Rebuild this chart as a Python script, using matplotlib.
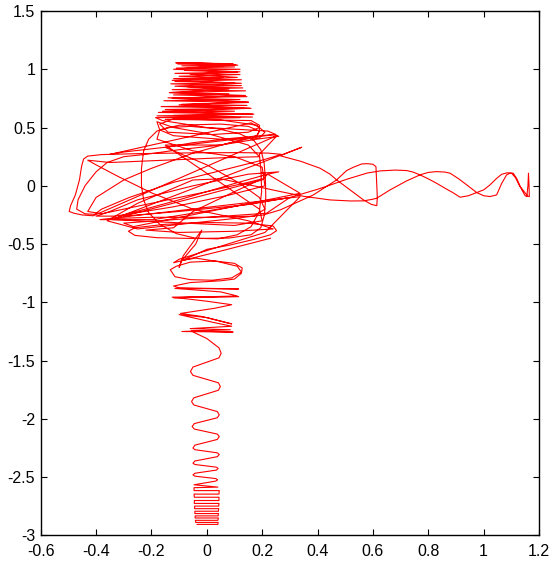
import numpy as np
import matplotlib
matplotlib.use("Agg")
import matplotlib.pyplot as plt

# trajectory, split into pieces (all in data units)
# dense block at the bottom of the stem (horizontal strokes)
base_x = [-0.035, 0.040, 0.041, -0.040, -0.041, 0.040, 0.042, -0.042, -0.042, 0.041,
          0.042, -0.043, -0.043, 0.042, 0.043, -0.044, -0.044, 0.043, 0.044, -0.045,
          -0.045, 0.044, 0.044, -0.045, -0.046, 0.044, 0.045, -0.046, -0.046, 0.040,
          -0.046]
base_y = [-2.905, -2.905, -2.888, -2.888, -2.870, -2.870, -2.850, -2.850, -2.832, -2.832,
          -2.812, -2.812, -2.792, -2.792, -2.770, -2.770, -2.748, -2.748, -2.725, -2.725,
          -2.700, -2.700, -2.672, -2.672, -2.645, -2.645, -2.615, -2.615, -2.590, -2.585,
          -2.565]

# wavy stem going up (shoulder, peak, shoulder for each swing)
stem_x = [0.033, 0.039, 0.033, -0.043, -0.050, -0.043, 0.035, 0.041, 0.035,
          -0.043, -0.050, -0.043, 0.038, 0.045, 0.038, -0.043, -0.050, -0.043,
          0.038, 0.045, 0.038, -0.045, -0.053, -0.045, 0.038, 0.045, 0.038,
          -0.047, -0.055, -0.047, 0.042, 0.049, 0.042, -0.050, -0.059, -0.050,
          0.044, 0.052, 0.044, 0.000, -0.040, -0.056]
stem_y = [-2.533, -2.523, -2.512, -2.491, -2.480, -2.466, -2.439, -2.425, -2.414,
          -2.391, -2.380, -2.361, -2.324, -2.305, -2.291, -2.264, -2.250, -2.225,
          -2.176, -2.151, -2.130, -2.087, -2.065, -2.040, -1.990, -1.965, -1.937,
          -1.880, -1.851, -1.819, -1.754, -1.722, -1.690, -1.626, -1.594, -1.555,
          -1.476, -1.436, -1.390, -1.310, -1.265, -1.245]

# zig-zag neck between stem and core
neck_x = [0.095, -0.090, 0.085, -0.060, 0.090, 0.020, -0.100, 0.000, 0.090, -0.020,
          -0.095, 0.030, 0.090, 0.000, -0.125, 0.115, -0.120, 0.110, 0.050, -0.115,
          0.115, -0.100, -0.120, -0.060, 0.050, 0.100, 0.125, 0.128, 0.100, 0.030,
          -0.060, -0.110, -0.132, -0.115, -0.060, 0.020, 0.090, 0.125, 0.110, 0.040,
          -0.040, -0.090, -0.100, -0.085, -0.018, -0.040, -0.090]
neck_y = [-1.255, -1.250, -1.235, -1.225, -1.205, -1.170, -1.105, -1.130, -1.185, -1.120,
          -1.095, -1.050, -1.020, -0.990, -0.955, -0.950, -0.960, -0.945, -0.910, -0.880,
          -0.885, -0.875, -0.860, -0.830, -0.815, -0.800, -0.750, -0.705, -0.665, -0.645,
          -0.655, -0.690, -0.720, -0.780, -0.805, -0.810, -0.790, -0.740, -0.690, -0.650,
          -0.620, -0.640, -0.700, -0.600, -0.380, -0.500, -0.640]

# tangled core around the origin
core_x = [-0.050, 0.000, 0.080, 0.170, 0.230, 0.252, 0.240, 0.150, 0.000, -0.150,
          -0.260, -0.283, -0.260, -0.180, -0.050, 0.080, 0.160, 0.195, 0.208, 0.213,
          0.212, 0.207, 0.195, 0.170, 0.120, 0.040, -0.060, -0.140, -0.180, -0.210,
          -0.228, -0.236, -0.236, -0.228, -0.210, -0.170, -0.110, -0.040, 0.040, 0.110,
          0.160, 0.190, 0.198, 0.196, 0.190,
          0.254, -0.410, -0.450, -0.480, -0.497, -0.492, -0.475, -0.460, -0.452, -0.445,
          -0.430, -0.380, -0.250, -0.050, 0.120, 0.220, 0.270,
          0.200, 0.050, -0.120, -0.280, -0.380, -0.405, -0.440, -0.470, -0.465, -0.440,
          -0.400, -0.360, -0.300, -0.220, -0.100, 0.050, 0.180, 0.260, 0.240, 0.100,
          -0.050, -0.150,
          0.000, 0.120, 0.190, 0.210, 0.170, 0.000, -0.200, -0.330, -0.300, -0.100,
          0.100, 0.220, 0.260, 0.150, -0.050, -0.250, -0.350, -0.400, -0.330, -0.120,
          0.080, 0.210,
          0.200, 0.100, -0.050, -0.180, -0.170, -0.100, 0.050, 0.150, 0.190, 0.180,
          0.100, -0.050, -0.200, -0.300, -0.400, -0.430, -0.380, -0.200, 0.000, 0.150,
          0.200,
          0.100, -0.050, -0.120, -0.220, -0.100, 0.100, 0.240, 0.150, -0.050, -0.200,
          -0.320, -0.400, -0.430, -0.350, -0.150, 0.050, 0.190,
          0.150, 0.000, -0.120, -0.180]
core_y = [-0.600, -0.545, -0.510, -0.460, -0.420, -0.385, -0.345, -0.320, -0.315, -0.330,
          -0.360, -0.390, -0.425, -0.445, -0.452, -0.448, -0.420, -0.360, -0.250, -0.100,
          0.050, 0.200, 0.310, 0.390, 0.445, 0.490, 0.510, 0.500, 0.470, 0.400,
          0.300, 0.150, 0.000, -0.120, -0.230, -0.330, -0.410, -0.450, -0.455, -0.420,
          -0.350, -0.220, -0.050, 0.120, 0.270,
          0.431, -0.257, -0.250, -0.235, -0.220, -0.170, -0.080, 0.050, 0.170, 0.230,
          0.255, 0.268, 0.276, 0.283, 0.285, 0.281, 0.270,
          0.220, 0.130, 0.030, -0.100, -0.200, -0.245, -0.240, -0.200, -0.120, 0.000,
          0.120, 0.200, 0.250, 0.270, 0.310, 0.350, 0.400, 0.425, 0.440, 0.410,
          0.370, 0.330,
          0.180, 0.020, -0.100, -0.200, -0.260, -0.270, -0.270, -0.280, -0.250, -0.120,
          0.020, 0.100, 0.120, 0.100, 0.000, -0.120, -0.220, -0.260, -0.260, -0.180,
          -0.080, 0.000,
          0.160, 0.250, 0.300, 0.400, 0.480, 0.520, 0.530, 0.510, 0.470, 0.430,
          0.380, 0.280, 0.150, 0.050, -0.100, -0.220, -0.240, -0.150, -0.050, 0.030,
          0.060,
          -0.050, -0.220, -0.360, -0.380, -0.400, -0.390, -0.370, -0.300, -0.200, -0.060,
          0.080, 0.180, 0.220, 0.200, 0.220, 0.240, 0.250,
          0.350, 0.450, 0.500, 0.550]

# loops between the core and the crown
upper_x = [-0.170, -0.120, 0.050, 0.190, 0.210, 0.180, 0.050, -0.120, -0.170, -0.140,
           0.020, 0.150, 0.190, 0.160, -0.350, -0.300, 0.250, 0.220, 0.000, -0.160]
upper_y = [0.480, 0.430, 0.400, 0.410, 0.460, 0.520, 0.565, 0.575, 0.530, 0.460,
           0.440, 0.460, 0.500, 0.540, 0.270, 0.290, 0.440, 0.470, 0.500, 0.560]

# dense scribble on top, up then back down
crown_x = [-0.185, 0.165, -0.120, 0.170, -0.175, 0.100, -0.150, 0.160, -0.165, 0.145,
           -0.090, 0.150, -0.155, 0.120, -0.140, 0.145, -0.120, 0.080, -0.135, 0.140,
           -0.125, 0.130, -0.070, 0.125, -0.130, 0.100, -0.115, 0.125, -0.120, 0.060,
           -0.100, 0.120, -0.115, 0.110, -0.080, 0.120, -0.110, 0.100, -0.090, 0.112,
           -0.105, 0.095, -0.112, -0.050, 0.105,
           -0.120, 0.120, -0.060, 0.110, -0.125, 0.125, -0.115, 0.080, -0.135, 0.140,
           -0.125, 0.150, -0.100, 0.155, -0.160, 0.165, -0.180, 0.120, -0.150, 0.160]
crown_y = [0.585, 0.590, 0.605, 0.615, 0.630, 0.640, 0.655, 0.665, 0.680, 0.690,
           0.700, 0.715, 0.730, 0.740, 0.755, 0.765, 0.780, 0.790, 0.800, 0.815,
           0.825, 0.840, 0.850, 0.860, 0.875, 0.885, 0.895, 0.910, 0.920, 0.930,
           0.940, 0.955, 0.965, 0.975, 0.990, 1.000, 1.010, 1.020, 1.030, 1.035,
           1.045, 1.048, 1.055, 1.058, 1.040,
           1.000, 0.978, 0.958, 0.930, 0.905, 0.880, 0.855, 0.830, 0.800, 0.775,
           0.750, 0.720, 0.695, 0.665, 0.640, 0.615, 0.600, 0.585, 0.570, 0.560]

# descent through the core, the loop near x=0.6 and the long tail to the right
tail_x = [0.190, 0.190, 0.180, 0.050, -0.150, 0.190, 0.200, 0.100, -0.340, -0.300,
          0.343, 0.265, 0.340, 0.409, 0.445, 0.469, 0.520, 0.566, 0.595, 0.614,
          0.616, 0.613, 0.611, 0.600, 0.580, 0.560, 0.530, 0.505, 0.469, 0.385,
          0.265, 0.204, 0.100, -0.250, -0.360, -0.250, -0.050, 0.050, 0.150, 0.265,
          0.350, 0.445, 0.520, 0.566, 0.600, 0.614, 0.662, 0.720, 0.770, 0.800,
          0.830, 0.860, 0.879, 0.910, 0.939, 0.975, 1.000, 1.023, 1.047, 1.065,
          1.083, 1.095, 1.107, 1.120, 1.138, 1.150, 1.156, 1.160, 1.162, 1.164,
          1.165, 1.160, 1.153, 1.140, 1.131, 1.115, 1.101, 1.085, 1.065, 1.045,
          1.023, 1.000, 0.975, 0.945, 0.915, 0.890, 0.860, 0.830, 0.800, 0.770,
          0.745, 0.722, 0.680, 0.626, 0.580, 0.505, 0.450, 0.400, 0.300, 0.150,
          -0.100, -0.300, 0.200, 0.220]
tail_y = [0.520, 0.470, 0.420, 0.350, 0.350, -0.200, -0.300, -0.340, -0.290, -0.250,
          0.331, 0.258, 0.210, 0.151, 0.100, 0.051, -0.040, -0.121, -0.160, -0.170,
          -0.100, 0.050, 0.165, 0.185, 0.190, 0.188, 0.160, 0.131, 0.051, -0.078,
          -0.207, -0.250, -0.280, -0.370, -0.300, -0.150, 0.050, 0.060, 0.010, -0.049,
          -0.090, -0.121, -0.130, -0.129, -0.115, -0.106, -0.035, 0.040, 0.094, 0.115,
          0.122, 0.118, 0.108, 0.060, 0.008, -0.058, -0.085, -0.092, -0.078, 0.020,
          0.094, 0.108, 0.108, 0.060, -0.035, -0.085, -0.092, 0.000, 0.108, 0.000,
          -0.092, -0.090, -0.070, -0.030, -0.006, 0.070, 0.108, 0.112, 0.099, 0.060,
          0.008, -0.035, -0.058, -0.085, -0.098, -0.060, -0.020, 0.022, 0.060, 0.094,
          0.118, 0.131, 0.135, 0.128, 0.110, 0.056, 0.010, -0.030, -0.100, -0.160,
          -0.220, -0.260, 0.050, 0.100]

# last strokes across the lower core and down into the neck
last_x = [0.337, -0.265, -0.300, 0.216, 0.300, -0.193, -0.386, 0.337, 0.210, -0.100,
          -0.120, 0.050, 0.230]
last_y = [-0.064, -0.350, -0.320, -0.235, -0.100, -0.290, -0.290, -0.093, -0.400, -0.630,
          -0.660, -0.560, -0.450]

x_ticks = [-0.6, -0.4, -0.2, 0, 0.2, 0.4, 0.6, 0.8, 1, 1.2]
x_labels = ['-0.6', '-0.4', '-0.2', '0', '0.2', '0.4', '0.6', '0.8', '1', '1.2']
y_ticks = [-3, -2.5, -2, -1.5, -1, -0.5, 0, 0.5, 1, 1.5]
y_labels = ['-3', '-2.5', '-2', '-1.5', '-1', '-0.5', '0', '0.5', '1', '1.5']

xs = np.concatenate([base_x, stem_x, neck_x, core_x, upper_x, crown_x, tail_x, last_x])
ys = np.concatenate([base_y, stem_y, neck_y, core_y, upper_y, crown_y, tail_y, last_y])

plt.rcParams['font.family'] = ['Liberation Sans Narrow', 'Liberation Sans', 'DejaVu Sans']

fig = plt.figure(figsize=(5.49, 5.67), dpi=100, facecolor='white')
ax = fig.add_axes([0.0741, 0.0556, 0.9077, 0.925])

ax.plot(xs, ys, color='#ff0000', linewidth=0.8)

ax.set_xlim(-0.6, 1.2)
ax.set_ylim(-3, 1.5)
ax.set_xticks(x_ticks)
ax.set_xticklabels(x_labels)
ax.set_yticks(y_ticks)
ax.set_yticklabels(y_labels)
ax.tick_params(axis='both', direction='in', length=4, width=0.8, labelsize=11.5,
               top=True, right=True, colors='black')
ax.tick_params(axis='x', pad=6)
ax.tick_params(axis='y', pad=4)
for spine in ax.spines.values():
    spine.set_color('black')
    spine.set_linewidth(1.0)

fig.savefig('out.png', dpi=100, facecolor='white')
